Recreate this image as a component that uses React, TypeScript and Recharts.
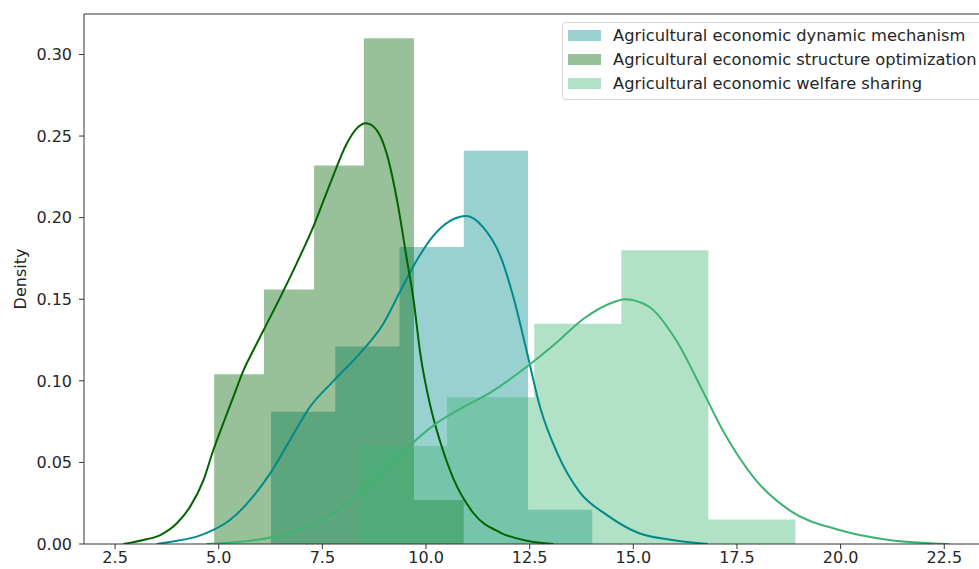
import { ComposedChart, Area, Line, XAxis, YAxis, ReferenceLine } from 'recharts';

const seriesNames = [
  'Agricultural economic dynamic mechanism',
  'Agricultural economic structure optimization',
  'Agricultural economic welfare sharing',
];
const seriesColors = ['#008b8b', '#006400', '#3cb371'];

// histogram bin edges and densities
const dynamicEdges = [6.26, 7.81, 9.36, 10.91, 12.46, 14.01];
const dynamicDensity = [0.081, 0.121, 0.182, 0.241, 0.021];
const structureEdges = [4.89, 6.09, 7.3, 8.5, 9.71, 10.91];
const structureDensity = [0.104, 0.156, 0.232, 0.31, 0.027];
const welfareEdges = [8.41, 10.51, 12.61, 14.71, 16.81, 18.91];
const welfareDensity = [0.06, 0.09, 0.135, 0.18, 0.015];

// kde curves
const dynamicKdeX = [3.5, 3.99, 4.47, 4.87, 5.27, 5.76, 6.24, 6.72, 7.2, 7.77, 8.41, 8.97, 9.38, 9.78, 10.18, 10.58, 10.98, 11.38, 11.8, 12.1, 12.43, 12.75, 13.16, 13.7, 14.35, 15.14, 15.94, 16.8];
const dynamicKdeY = [0, 0.002, 0.0045, 0.0086, 0.0147, 0.027, 0.0433, 0.0637, 0.084, 0.1, 0.117, 0.135, 0.155, 0.174, 0.189, 0.198, 0.201, 0.194, 0.176, 0.152, 0.118, 0.084, 0.056, 0.032, 0.018, 0.0066, 0.0025, 0];
const structureKdeX = [2.7, 3.18, 3.59, 3.99, 4.31, 4.63, 4.87, 5.11, 5.35, 5.6, 5.84, 6.08, 6.48, 6.88, 7.28, 7.69, 8.09, 8.33, 8.55, 8.81, 9.05, 9.3, 9.54, 9.7, 9.86, 10.1, 10.35, 10.66, 11.14, 11.79, 12.43, 13.07];
const structureKdeY = [0, 0.0025, 0.0055, 0.0127, 0.0229, 0.039, 0.0576, 0.074, 0.09, 0.1066, 0.119, 0.131, 0.151, 0.172, 0.1944, 0.221, 0.2455, 0.2547, 0.2578, 0.2537, 0.2394, 0.2108, 0.174, 0.1495, 0.117, 0.085, 0.062, 0.04, 0.019, 0.007, 0.002, 0];
const welfareKdeX = [4.7, 6.16, 6.96, 7.77, 8.57, 9.38, 10.2, 10.98, 11.5, 12.5, 13.13, 13.8, 14.5, 14.8, 15.38, 16.03, 16.67, 17.15, 17.96, 18.76, 19.97, 21.17, 22.62];
const welfareKdeY = [0, 0.0035, 0.0086, 0.0188, 0.035, 0.055, 0.073, 0.085, 0.092, 0.11, 0.123, 0.138, 0.148, 0.15, 0.1454, 0.125, 0.094, 0.07, 0.039, 0.0208, 0.0086, 0.0025, 0];

const xTicks = [2.5, 5, 7.5, 10, 12.5, 15, 17.5, 20, 22.5];
const yTicks = [0, 0.05, 0.1, 0.15, 0.2, 0.25, 0.3];
const xDomain = [1.75, 23.7];
const yMax = 0.3248;

const toSteps = (edges: number[], heights: number[]) =>
  edges.map((x, i) => ({ x, y: i < heights.length ? heights[i] : 0 }));
const toCurve = (xs: number[], ys: number[]) => xs.map((x, i) => ({ x, y: ys[i] }));

const hists = [
  toSteps(dynamicEdges, dynamicDensity),
  toSteps(structureEdges, structureDensity),
  toSteps(welfareEdges, welfareDensity),
];
const kdes = [
  toCurve(dynamicKdeX, dynamicKdeY),
  toCurve(structureKdeX, structureKdeY),
  toCurve(welfareKdeX, welfareKdeY),
];

const font = "'DejaVu Sans', sans-serif";
const fontSize = 16;
const axisColor = '#333';
const textColor = '#262626';

function LegendBox() {
  return (
    <div
      style={{
        position: 'absolute',
        left: 562,
        top: 22,
        width: 440,
        height: 78,
        boxSizing: 'border-box',
        border: '1px solid #d6d6d6',
        borderRadius: 4,
        background: 'rgba(255,255,255,0.8)',
        fontFamily: font,
        fontSize: 16.3,
        color: textColor,
      }}
    >
      {seriesNames.map((name, i) => (
        <div key={name} style={{ position: 'absolute', left: 0, top: 1 + 24 * i, height: 24, width: '100%' }}>
          <div
            style={{
              position: 'absolute',
              left: 5,
              top: 6,
              width: 33,
              height: 11,
              background: seriesColors[i],
              opacity: 0.4,
            }}
          />
          <span style={{ position: 'absolute', left: 50, top: 0, lineHeight: '24px', whiteSpace: 'nowrap' }}>{name}</span>
        </div>
      ))}
    </div>
  );
}

export default function App() {
  return (
    <div style={{ position: 'absolute', left: 0, top: 0, width: 979, height: 569, overflow: 'hidden', background: '#fff' }}>
      <ComposedChart width={1000} height={569} margin={{ top: 14, right: 6, bottom: 0, left: 0 }}>
        <XAxis
          type="number"
          dataKey="x"
          domain={xDomain}
          ticks={xTicks}
          interval={0}
          allowDataOverflow
          tickFormatter={(v: number) => v.toFixed(1)}
          height={25}
          tickSize={5}
          tickMargin={3}
          stroke={axisColor}
          tick={{ fill: textColor, fontSize, fontFamily: font }}
        />
        <YAxis
          type="number"
          dataKey="y"
          domain={[0, yMax]}
          ticks={yTicks}
          interval={0}
          allowDataOverflow
          tickFormatter={(v: number) => v.toFixed(2)}
          width={84}
          tickSize={5}
          tickMargin={7}
          stroke={axisColor}
          tick={{ fill: textColor, fontSize, fontFamily: font }}
          label={{
            value: 'Density',
            angle: -90,
            position: 'insideLeft',
            offset: 20,
            style: { textAnchor: 'middle', fill: textColor, fontSize, fontFamily: font },
          }}
        />
        <ReferenceLine y={yMax} stroke={axisColor} />
        {hists.map((d, i) => (
          <Area
            key={'h' + i}
            data={d}
            dataKey="y"
            type="stepAfter"
            fill={seriesColors[i]}
            fillOpacity={0.4}
            stroke="none"
            isAnimationActive={false}
          />
        ))}
        {kdes.map((d, i) => (
          <Line
            key={'k' + i}
            data={d}
            dataKey="y"
            type="monotone"
            stroke={seriesColors[i]}
            strokeWidth={2}
            dot={false}
            activeDot={false}
            isAnimationActive={false}
          />
        ))}
      </ComposedChart>
      <LegendBox />
    </div>
  );
}
